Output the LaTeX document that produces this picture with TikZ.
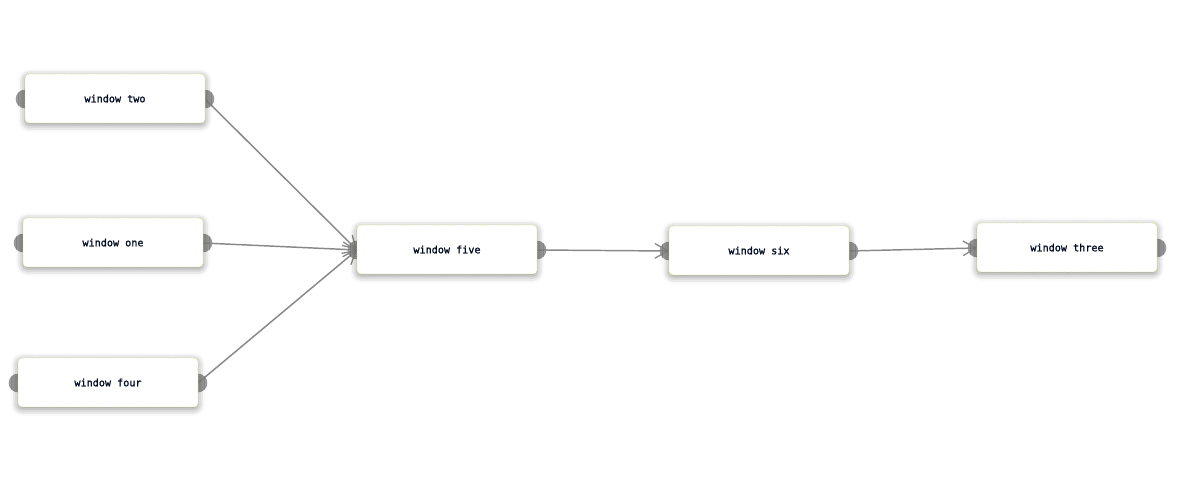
\documentclass[tikz,border=0pt]{standalone}
\usepackage{fontspec}
\newfontfamily\winfont[FakeBold=1.2]{DejaVu Sans Mono}
\usetikzlibrary{arrows.meta,shadows.blur}
\definecolor{portgray}{HTML}{9A9A9A}
\definecolor{edgegray}{HTML}{888888}
\definecolor{boxborder}{HTML}{DDEA95}
\definecolor{txt}{HTML}{000A22}
\tikzset{
  winbox/.style={draw=boxborder, densely dotted, line width=0.7pt, fill=white, rounded corners=3pt,
    minimum width=135pt, minimum height=36.75pt, inner sep=0pt,
    font=\winfont\fontsize{7.6pt}{9.5pt}\selectfont, text=txt,
    blur shadow={shadow xshift=0pt, shadow yshift=-1.5pt, shadow blur radius=5pt, shadow opacity=45}},
  port/.style={circle, fill=portgray, draw=none, minimum size=14pt, inner sep=0pt},
  conn/.style={draw=edgegray, line width=1.1pt, -{Straight Barb[length=9.5pt, width=11pt, line width=1pt]}}
}
\begin{document}
\begin{tikzpicture}[x=0.75pt, y=-0.75pt]
\useasboundingbox (0,0) rectangle (1197,502);
% ports
\foreach \n/\xl/\xr/\y in {two/25/205/99, one/23/203/243, four/18/198/383, five/357/537/250, six/669/849/251, three/977/1157/248}{
  \node[port] (\n L) at (\xl,\y) {};
  \node[port] (\n R) at (\xr,\y) {};
}
% connectors
\draw[conn] (twoR.center) -- (fiveL.center);
\draw[conn] (oneR.center) -- (fiveL.center);
\draw[conn] (fourR.center) -- (fiveL.center);
\draw[conn] (fiveR.center) -- (sixL.center);
\draw[conn] (sixR.center) -- (threeL.center);
% boxes
\node[winbox] (two) at (115,98.5) {window two};
\node[winbox] (one) at (113,242.5) {window one};
\node[winbox] (four) at (108,382.5) {window four};
\node[winbox] (five) at (447,249.5) {window five};
\node[winbox] (six) at (759,250.5) {window six};
\node[winbox] (three) at (1067,247.5) {window three};
\end{tikzpicture}
\end{document}
